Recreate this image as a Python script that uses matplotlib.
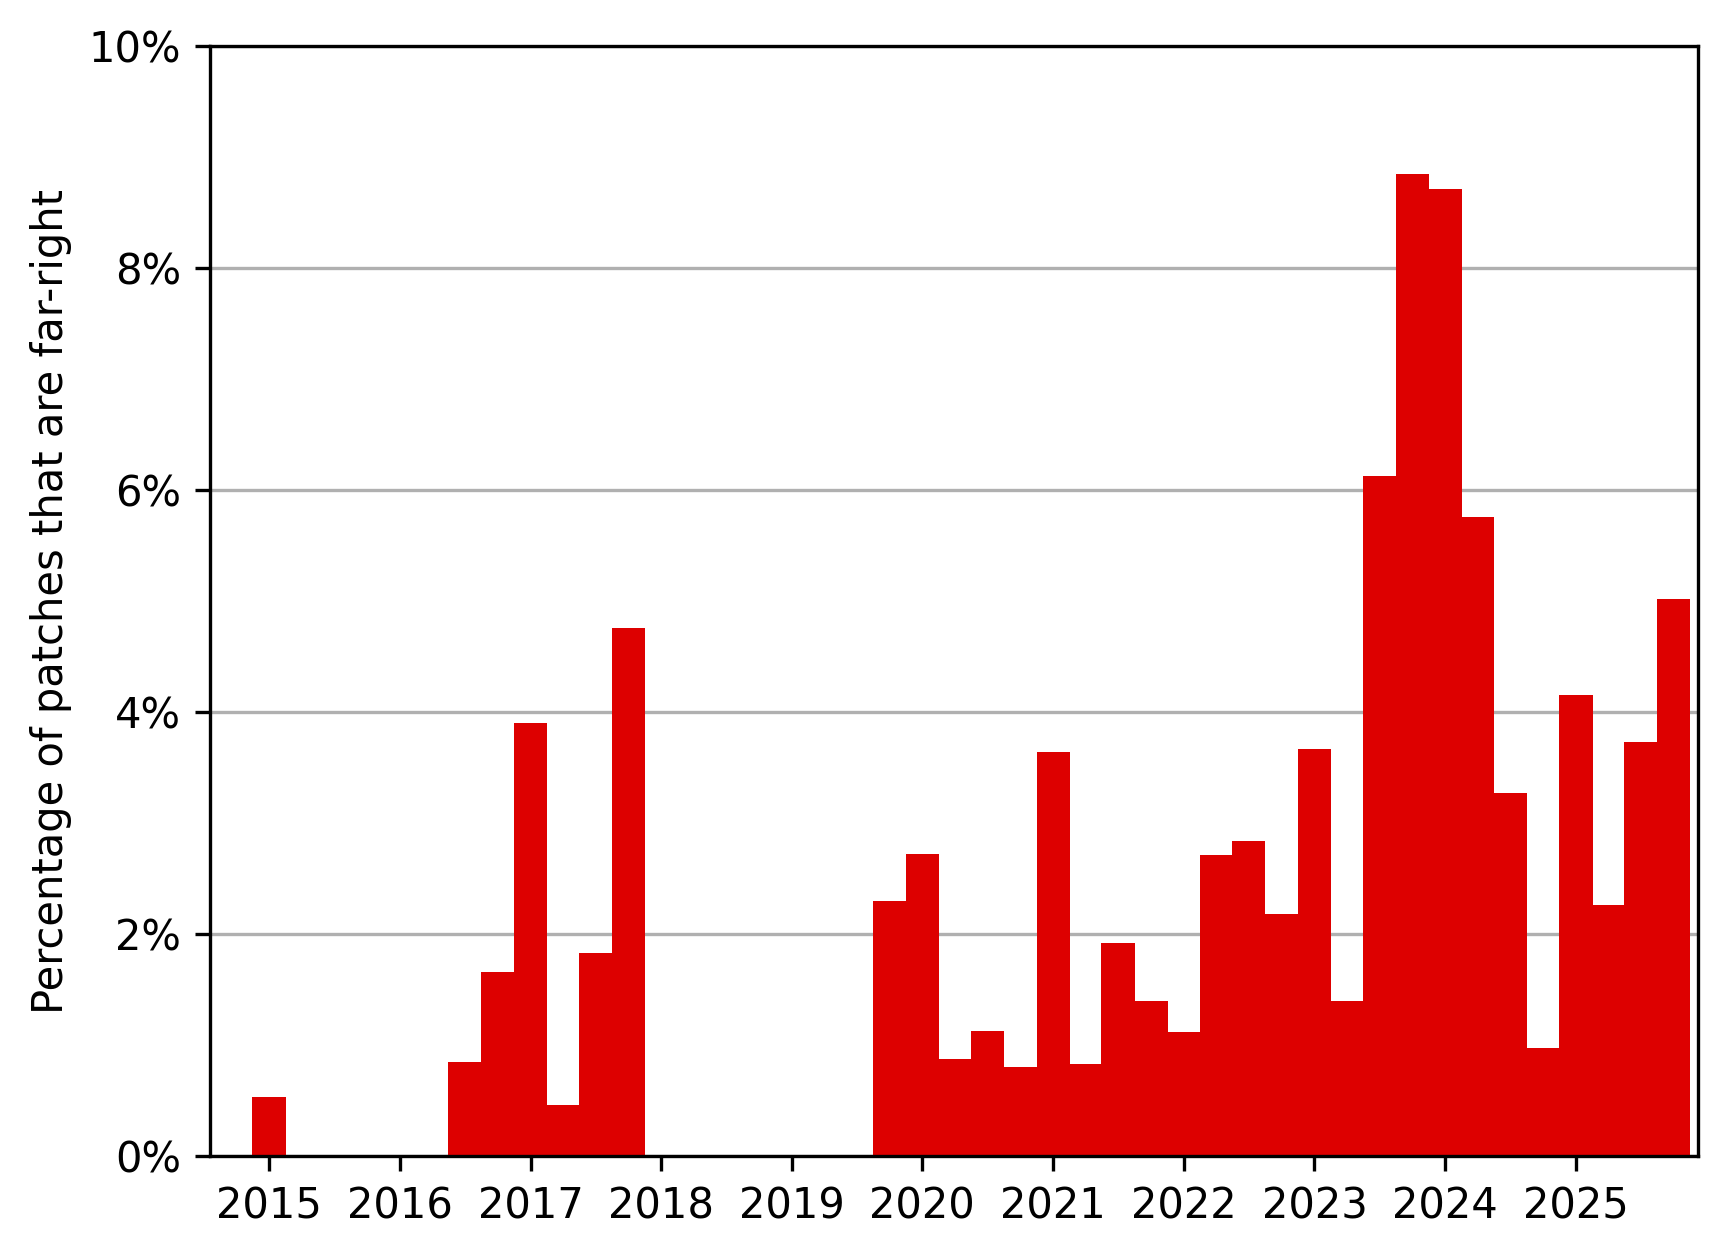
import datetime as dt
import matplotlib
matplotlib.use("Agg")
import matplotlib.pyplot as plt
import matplotlib.dates as mdates
from matplotlib.ticker import FuncFormatter

# quarterly share of far-right patches (%), 2015 Q1 .. 2025 Q4
years = list(range(2015, 2026))
values = [
    0.53, 0, 0, 0,          # 2015
    0, 0, 0.845, 1.66,      # 2016
    3.90, 0.457, 1.83, 4.76,  # 2017
    0, 0, 0, 0,             # 2018
    0, 0, 0, 2.30,          # 2019
    2.72, 0.875, 1.13, 0.805,  # 2020
    3.64, 0.825, 1.92, 1.40,   # 2021
    1.12, 2.71, 2.84, 2.18,    # 2022
    3.67, 1.40, 6.13, 8.85,    # 2023
    8.71, 5.76, 3.27, 0.974,   # 2024
    4.15, 2.26, 3.73, 5.02,    # 2025
]

quarters = [dt.date(y, m, 1) for y in years for m in (1, 4, 7, 10)]

fig = plt.figure(figsize=(1728 / 300, 1256 / 300), dpi=300)
ax = fig.add_axes([210 / 1728, 100 / 1256, 1488 / 1728, 1110 / 1256])

ax.bar(mdates.date2num(quarters), values, width=92.5, align="center",
       color="#dd0000", linewidth=0)

ax.set_axisbelow(True)
ax.grid(axis="y")
ax.set_ylim(0, 10)
ax.set_yticks([0, 2, 4, 6, 8, 10])
ax.yaxis.set_major_formatter(FuncFormatter(lambda v, p: f"{v:.0f}%"))
ax.set_ylabel("Percentage of patches that are far-right")

ax.xaxis.set_major_locator(mdates.YearLocator())
ax.xaxis.set_major_formatter(mdates.DateFormatter("%Y"))
ax.set_xlim(mdates.date2num(dt.date(2014, 7, 20)),
            mdates.date2num(dt.date(2025, 12, 8)))

fig.savefig("out.png", dpi=300)
